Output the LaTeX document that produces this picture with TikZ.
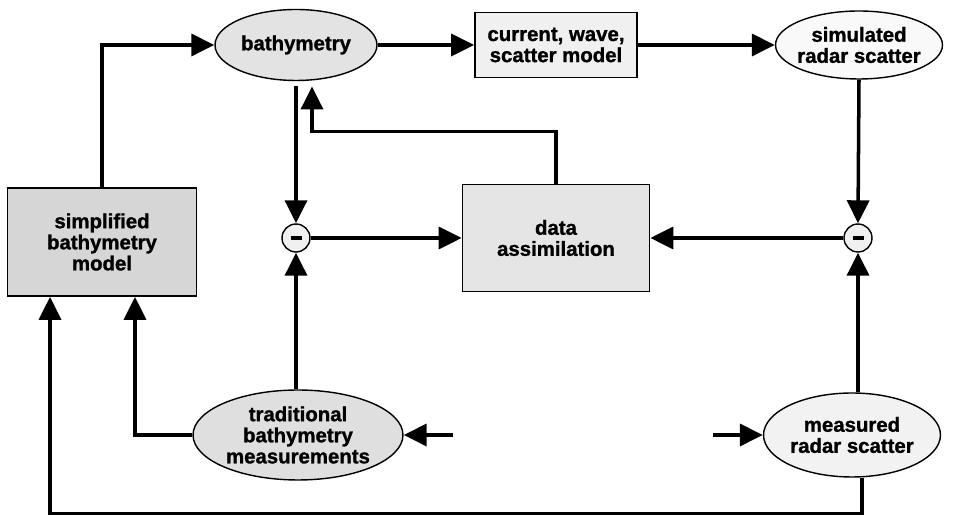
\documentclass[tikz,border=0pt]{standalone}
\usepackage{fontspec}
\setmainfont{Liberation Sans}[BoldFeatures={FakeBold=1.2}]
\usetikzlibrary{shapes.geometric,arrows.meta}
\tikzstyle{boxtext}=[align=center, font=\bfseries\fontsize{11.6}{12}\selectfont]
\tikzstyle{blockbox}=[draw, line width=1pt, boxtext]
\tikzstyle{blob}=[draw, ellipse, line width=0.8pt, inner sep=0pt]
\tikzstyle{sumcirc}=[draw, circle, line width=0.8pt, fill=gray!12, minimum size=0.56cm, inner sep=0pt]
\tikzstyle{flow}=[line width=2pt, -{Triangle[length=0.46cm,width=0.44cm]}]

\begin{document}
\begin{tikzpicture}[x=0.02cm, y=-0.02cm]
%\draw[help lines] (0,0) grid (957,519);
\useasboundingbox (0,0) rectangle (957,519);

\node[blob, fill=gray!22, minimum width=3.24cm, minimum height=1.42cm, label={[boxtext]center:bathymetry}] (bath) at (296,45) {};%top row
\node[blockbox, fill=gray!12, minimum width=3.24cm, minimum height=1.3cm] (cws) at (556,45) {current, wave,\\scatter model};
\node[blob, fill=gray!5, minimum width=3.34cm, minimum height=1.36cm, label={[boxtext]center:simulated\\radar scatter}] (simrad) at (859,45) {};

\node[blockbox, fill=gray!32, minimum width=3.78cm, minimum height=2.16cm] (simp) at (102,242) {simplified\\bathymetry\\model};%middle row
\node[sumcirc] (diffL) at (296,238) {\rule[-1.3pt]{0.22cm}{2.6pt}};
\node[blockbox, fill=gray!20, minimum width=3.74cm, minimum height=2.14cm] (assim) at (556,238) {data\\assimilation};
\node[sumcirc] (diffR) at (858,238) {\rule[-1.3pt]{0.22cm}{2.6pt}};

\node[blob, fill=gray!25, minimum width=4.2cm, minimum height=1.8cm, label={[boxtext]center:traditional\\bathymetry\\measurements}] (trad) at (298,435) {};%bottom row
\node[blob, fill=gray!10, minimum width=3.54cm, minimum height=1.68cm, label={[boxtext]center:measured\\radar scatter}] (meas) at (852,435) {};
\coordinate (trin) at (453,435);
\coordinate (msin) at (713,435);

\draw[flow] (simp.north) |- (bath.west);
\draw[flow] (bath.east) -- (cws.west);
\draw[flow] (cws.east) -- (simrad.west);
\draw[flow, shorten <=3pt] (bath.south) -- (diffL.north);
\draw[flow, shorten >=3pt] (assim.north) -- ++(0,-52) -| ([xshift=0.32cm]bath.south);%feedback
\draw[flow] (diffL.east) -- (assim.west);
\draw[flow] (simrad.south) -- (diffR.north);
\draw[flow] (diffR.west) -- (assim.east);
\draw[flow] (diffR |- meas.north) -- (diffR.south);
\draw[flow] (diffL |- trad.north) -- (diffL.south);
\draw[flow] (trad.west) -| ([xshift=0.66cm]simp.south);
\draw[flow] ([xshift=0.2cm]meas.south) -- ++(0,36) -| ([xshift=-1.04cm]simp.south);%long return
\draw[flow] (trin) -- (trad.east);%inputs
\draw[flow] (msin) -- (meas.west);
\end{tikzpicture}
\end{document}
